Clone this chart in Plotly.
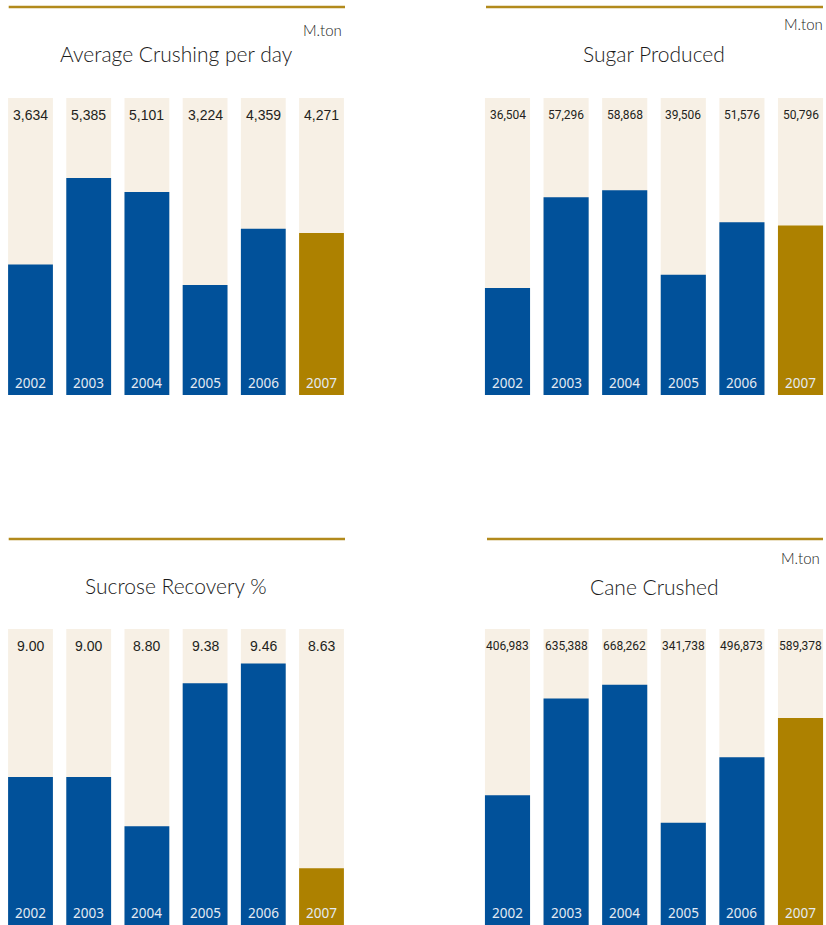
import plotly.graph_objects as go

# ---- data -------------------------------------------------------------
years = ["2002", "2003", "2004", "2005", "2006", "2007"]
crushing_per_day = [3634, 5385, 5101, 3224, 4359, 4271]
sugar_produced = [36504, 57296, 58868, 39506, 51576, 50796]
sucrose_recovery = [9.00, 9.00, 8.80, 9.38, 9.46, 8.63]
cane_crushed = [406983, 635388, 668262, 341738, 496873, 589378]

titles = ["Average Crushing per day", "Sugar Produced", "Sucrose Recovery %", "Cane Crushed"]
units = ["M.ton", "M.ton", "", "M.ton"]
value_ranges = [(1000, 7000), (12000, 80000), (8.4, 9.6), (100000, 800000)]
value_formats = ["{:,.0f}", "{:,.0f}", "{:.2f}", "{:,.0f}"]

# ---- style ------------------------------------------------------------
W, H = 826, 925
BLUE = "#01519A"
GOLD = "#AD8100"
CREAM = "#F7F0E5"
RULE = "#B28A1C"
INK = "#231F20"
YEAR_INK = "#E4EBF3"


def px(x):
    return x / W


def py(y):
    return 1 - y / H


# panel geometry (page pixels)
panels = [
    dict(x_dom=(1.4, 350.6), x_rng=(-0.5, 5.5), y_dom=(395, 98), rule=(8.7, 345, 7),
         title_xy=(176, 54), unit_xy=(344, 30), val_font=("Liberation Sans", 14)),
    dict(x_dom=(478.2, 826), x_rng=(-0.5, 5.435), y_dom=(395, 98), rule=(486, 823, 7),
         title_xy=(654, 54), unit_xy=(825, 24), val_font=("Roboto", 12)),
    dict(x_dom=(1.4, 350.6), x_rng=(-0.5, 5.5), y_dom=(925, 629), rule=(8.7, 345, 539),
         title_xy=(176, 585), unit_xy=(344, 560), val_font=("Liberation Sans", 14)),
    dict(x_dom=(478.2, 826), x_rng=(-0.5, 5.435), y_dom=(925, 629), rule=(487, 823, 539),
         title_xy=(654, 586), unit_xy=(822, 558), val_font=("Roboto", 12)),
]

series = [crushing_per_day, sugar_produced, sucrose_recovery, cane_crushed]

hidden = dict(showgrid=False, zeroline=False, showline=False, showticklabels=False,
              ticks="", fixedrange=True)

fig = go.Figure()
layout_axes = {}
annotations = []
shapes = []

for i, (vals, geo) in enumerate(zip(series, panels)):
    n = "" if i == 0 else str(i + 1)
    xa, ya = "x" + n, "y" + n
    lo, hi = value_ranges[i]
    colors = [BLUE] * (len(years) - 1) + [GOLD]

    # full-height backdrop bars
    fig.add_trace(go.Bar(x=years, y=[hi] * len(years), marker_color=CREAM,
                         marker_line_width=0, hoverinfo="skip",
                         xaxis=xa, yaxis=ya))
    # value bars
    fig.add_trace(go.Bar(x=years, y=vals, marker_color=colors, marker_line_width=0,
                         xaxis=xa, yaxis=ya))

    layout_axes["xaxis" + n] = dict(domain=[px(geo["x_dom"][0]), px(geo["x_dom"][1])],
                                   range=list(geo["x_rng"]), type="category",
                                   anchor=ya, **hidden)
    layout_axes["yaxis" + n] = dict(domain=[py(geo["y_dom"][0]), py(geo["y_dom"][1])],
                                   range=[lo, hi], anchor=xa, **hidden)

    fam, size = geo["val_font"]
    label_top = lo + 0.943 * (hi - lo)
    label_foot = lo + 0.041 * (hi - lo)
    for k, (yr, v) in enumerate(zip(years, vals)):
        # value label in the backdrop near the top
        annotations.append(dict(x=k, y=label_top, xref=xa, yref=ya,
                                text=value_formats[i].format(v), showarrow=False,
                                font=dict(family=fam, size=size, color=INK),
                                xanchor="center", yanchor="middle"))
        # year label at the foot of each bar
        annotations.append(dict(x=k, y=label_foot, xref=xa, yref=ya,
                                text=yr, showarrow=False,
                                font=dict(family="Noto Sans", size=13.5, color=YEAR_INK),
                                xanchor="center", yanchor="middle"))

    # panel title and unit
    tx, ty = geo["title_xy"]
    annotations.append(dict(x=px(tx), y=py(ty), xref="paper", yref="paper",
                            text=titles[i], showarrow=False,
                            font=dict(family="Lato", size=21, color="#1A1A1A", weight=300),
                            xanchor="center", yanchor="middle"))
    if units[i]:
        ux, uy = geo["unit_xy"]
        annotations.append(dict(x=px(ux), y=py(uy), xref="paper", yref="paper",
                                text=units[i], showarrow=False,
                                font=dict(family="Lato", size=15, color="#1A1A1A", weight=300),
                                xanchor="right", yanchor="middle"))

    # gold rule above the panel
    x0, x1, yy = geo["rule"]
    shapes.append(dict(type="line", xref="paper", yref="paper",
                       x0=px(x0), x1=px(x1), y0=py(yy), y1=py(yy),
                       line=dict(color=RULE, width=2.5)))

fig.update_layout(
    width=W, height=H,
    margin=dict(l=0, r=0, t=0, b=0),
    paper_bgcolor="white", plot_bgcolor="white",
    barmode="overlay", bargap=0.23,
    showlegend=False,
    annotations=annotations, shapes=shapes,
    **layout_axes,
)

fig.write_html("out.html")
